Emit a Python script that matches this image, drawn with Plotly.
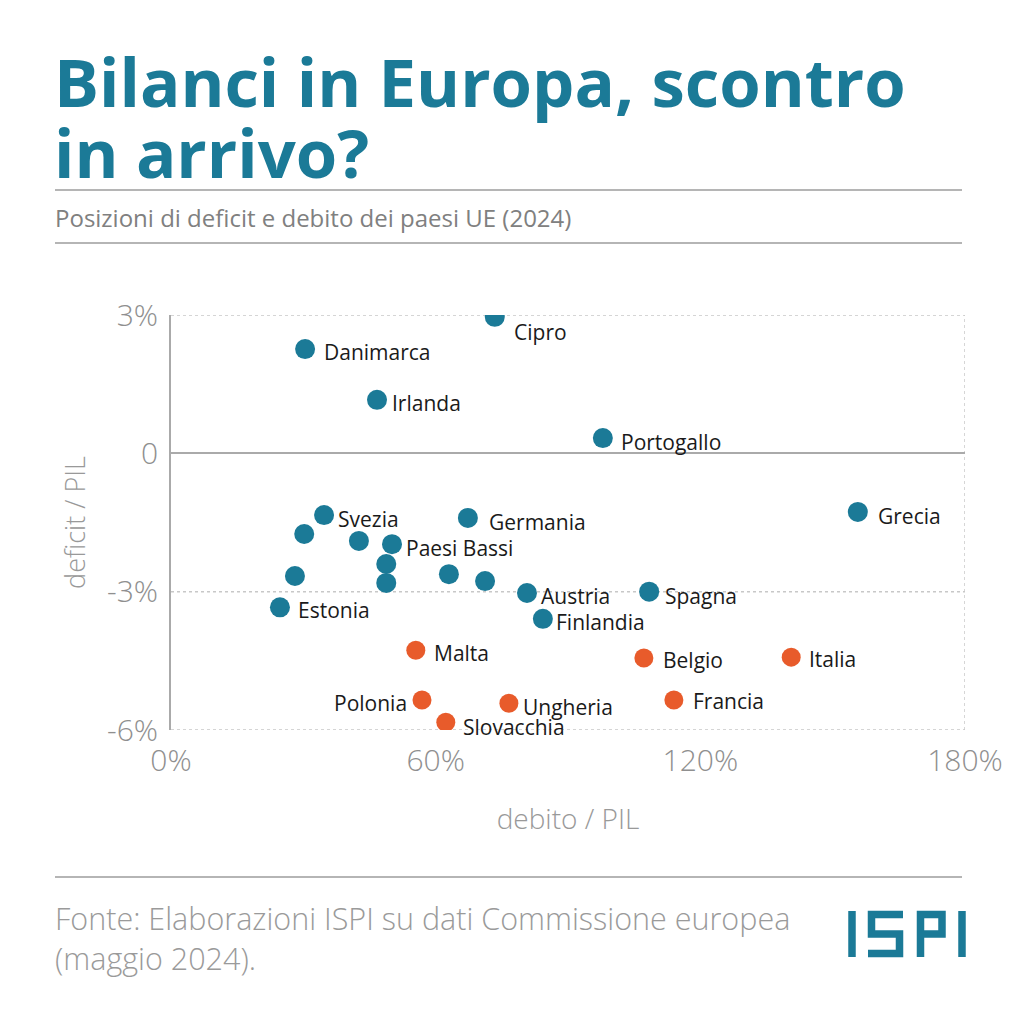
import plotly.graph_objects as go

# ---- data ----
blue_names = ["Danimarca", "Irlanda", "Cipro", "Portogallo", "Svezia", "", "", "Paesi Bassi",
              "", "", "", "Estonia", "Germania", "", "", "Austria", "Finlandia", "Grecia", "Spagna"]
blue_debt = [30.4, 46.7, 73.4, 97.9, 34.7, 30.2, 42.6, 50.1,
             48.8, 48.8, 28.1, 24.7, 67.3, 63.0, 71.2, 80.7, 84.3, 155.7, 108.4]
blue_deficit = [2.26, 1.16, 2.96, 0.33, -1.34, -1.75, -1.90, -1.97,
                -2.40, -2.81, -2.66, -3.34, -1.40, -2.62, -2.77, -3.03, -3.59, -1.27, -3.00]

orange_names = ["Malta", "Polonia", "Ungheria", "Slovacchia", "Belgio", "Italia", "Francia"]
orange_debt = [55.5, 56.9, 76.6, 62.3, 107.2, 140.6, 114.0]
orange_deficit = [-4.27, -5.35, -5.42, -5.83, -4.44, -4.42, -5.35]

x_ticks = [0, 60, 120, 180]
x_ticktext = ["0%", "60%", "120%", "180%"]
y_ticks = [3, 0, -3, -6]
y_ticktext = ["3%", "0", "-3%", "-6%"]

# label placement (pixel offsets), kept apart from the data
label_offsets = {
    "Danimarca": (17, -3), "Irlanda": (13, -3), "Cipro": (17, -15), "Portogallo": (16, -4),
    "Svezia": (12, -4), "Paesi Bassi": (12, -4), "Estonia": (16, -3), "Germania": (19, -4),
    "Austria": (12, -3), "Finlandia": (11, -3), "Grecia": (18, -4), "Spagna": (14, -4),
    "Malta": (16, -3), "Polonia": (-13, -3), "Ungheria": (12, -4), "Slovacchia": (15, -5),
    "Belgio": (17, -2), "Italia": (16, -2), "Francia": (17, -1),
}

BLUE = "#1b7a97"
ORANGE = "#e85b2b"
FONT = "'Open Sans', Lato, sans-serif"

fig = go.Figure()
fig.add_trace(go.Scatter(x=blue_debt, y=blue_deficit, mode="markers",
                         marker=dict(color=BLUE, size=20), hoverinfo="skip", showlegend=False))
fig.add_trace(go.Scatter(x=orange_debt, y=orange_deficit, mode="markers",
                         marker=dict(color=ORANGE, size=19), hoverinfo="skip", showlegend=False))

annotations = []
for names, xs, ys in [(blue_names, blue_debt, blue_deficit), (orange_names, orange_debt, orange_deficit)]:
    for n, xv, yv in zip(names, xs, ys):
        if not n:
            continue
        dx, dy = label_offsets[n]
        annotations.append(dict(x=xv, y=yv, xref="x", yref="y", text=n, showarrow=False,
                                xanchor="left" if dx > 0 else "right", yanchor="middle",
                                xshift=dx, yshift=dy,
                                font=dict(family=FONT, size=21, color="#1a1a1a")))

# plot area in pixels: x 171..965, y 315..730
L, R, T, B = 171, 965, 315, 730
def px(x):
    return (x - L) / (R - L)
def py(y):
    return (B - y) / (B - T)

# titles / texts
annotations += [
    dict(x=px(52), y=py(108), xref="paper", yref="paper", xanchor="left", yanchor="bottom",
         text="Bilanci in Europa, scontro", showarrow=False, yshift=-21,
         font=dict(family=FONT, size=67, color=BLUE, weight=700)),
    dict(x=px(52), y=py(178), xref="paper", yref="paper", xanchor="left", yanchor="bottom",
         text="in arrivo?", showarrow=False, yshift=-22,
         font=dict(family=FONT, size=67, color=BLUE, weight=700)),
    dict(x=px(53), y=py(217), xref="paper", yref="paper", xanchor="left", yanchor="middle",
         text="Posizioni di deficit e debito dei paesi UE (2024)", showarrow=False,
         font=dict(family=FONT, size=24, color="#808080")),
    dict(x=px(53), y=py(938), xref="paper", yref="paper", xanchor="left", yanchor="middle",
         text="Fonte: Elaborazioni ISPI su dati Commissione europea<br>(maggio 2024).",
         showarrow=False, align="left",
         font=dict(family=FONT, size=30.5, color="#9a9a9a", weight=300)),
]

shapes = []
for yy in [190, 243, 877]:
    shapes.append(dict(type="line", xref="paper", yref="paper", x0=px(55), x1=px(962),
                       y0=py(yy), y1=py(yy), line=dict(color="#b5b5b5", width=2)))
# dotted grid / border lines
for yv in [3, -3, -6]:
    shapes.append(dict(type="line", xref="x", yref="y", x0=0, x1=180, y0=yv, y1=yv,
                       line=dict(color="#c8c8c8", width=1.5, dash="dot"), layer="below"))
shapes.append(dict(type="line", xref="x", yref="y", x0=180, x1=180, y0=-6, y1=3,
                   line=dict(color="#c8c8c8", width=1.5, dash="dot"), layer="below"))

# ISPI logo drawn as strokes (pixel coords)
logo = [
    [(852, 911), (852, 957)],
    [(903, 914.5), (871.5, 914.5), (871.5, 934), (899.5, 934), (899.5, 953.5), (868, 953.5)],
    [(920.5, 957), (920.5, 914.5), (942, 914.5), (942, 934), (920.5, 934)],
    [(962, 911), (962, 957)],
]
for pts in logo:
    path = "M " + " L ".join(f"{px(a):.5f},{py(b):.5f}" for a, b in pts)
    shapes.append(dict(type="path", xref="paper", yref="paper", path=path,
                       line=dict(color=BLUE, width=7.5)))

fig.update_layout(
    width=1024, height=1024,
    margin=dict(l=L, r=1024 - R, t=T, b=1024 - B),
    paper_bgcolor="white", plot_bgcolor="white",
    annotations=annotations, shapes=shapes,
    xaxis=dict(range=[0, 180], tickvals=x_ticks, ticktext=x_ticktext, showgrid=False,
               zeroline=False, showline=False, ticks="", ticklabelstandoff=10,
               tickfont=dict(family=FONT, size=30, color="#8f8f8f", weight=300),
               title=dict(text="debito / PIL", standoff=30,
                          font=dict(family=FONT, size=28, color="#999999", weight=300))),
    yaxis=dict(range=[-6, 3], tickvals=y_ticks, ticktext=y_ticktext, showgrid=False,
               zeroline=True, zerolinecolor="#aaaaaa", zerolinewidth=2,
               showline=True, linecolor="#aaaaaa", linewidth=2, ticks="",
               ticklabelstandoff=5,
               tickfont=dict(family=FONT, size=30, color="#8f8f8f", weight=300),
               title=dict(text="deficit / PIL", standoff=14,
                          font=dict(family=FONT, size=27, color="#999999", weight=300))),
)

fig.write_html("out.html", post_script="document.body.style.margin='0';",
               config={"displayModeBar": False})
